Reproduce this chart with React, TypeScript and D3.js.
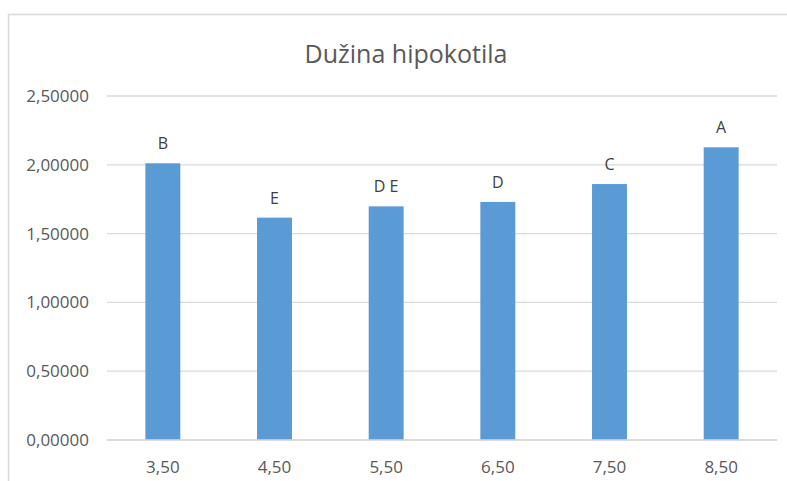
import React from 'react';
import * as d3 from 'd3';

const categories = ['3,50', '4,50', '5,50', '6,50', '7,50', '8,50'];
const values = [2.011, 1.616, 1.698, 1.73, 1.86, 2.127];
const letters = ['B', 'E', 'D E', 'D', 'C', 'A'];
const yTicks = [0, 0.5, 1, 1.5, 2, 2.5];

const W = 787;
const H = 481;
const margin = { top: 96, right: 10, bottom: 41, left: 107 };

const App = () => {
    const x = d3.scaleBand()
        .domain(categories)
        .range([margin.left, W - margin.right])
        .paddingInner(0.687)
        .paddingOuter(0.3435);

    const y = d3.scaleLinear()
        .domain([0, 2.5])
        .range([H - margin.bottom, margin.top]);

    const fmt = (v: number) => d3.format('.5f')(v).replace('.', ',');
    const font = "'Open Sans', sans-serif";

    return (
        <svg width={W} height={H} style={{ position: 'absolute', left: 0, top: 0 }} fontFamily={font}>
            <rect x={0} y={0} width={W} height={H} fill="#fff" />
            <rect x={8.5} y={14.5} width={W + 20} height={H + 20} fill="none" stroke="#d9d9d9" strokeWidth={1.5} />
            <text x={406} y={63} textAnchor="middle" fontSize={25} fill="#595959">Dužina hipokotila</text>

            {yTicks.map((t, i) => (
                <g key={i}>
                    <line x1={margin.left} x2={W - margin.right} y1={y(t)} y2={y(t)}
                        stroke="#d9d9d9" strokeWidth={1.3} />
                    <text x={89} y={y(t)} dy="0.35em" textAnchor="end" fontSize={17} fill="#595959">{fmt(t)}</text>
                </g>
            ))}

            {values.map((v, i) => {
                const cx = x(categories[i])! + x.bandwidth() / 2;
                return (
                    <g key={i}>
                        <rect x={x(categories[i])} y={y(v)} width={x.bandwidth()} height={y(0) - y(v)} fill="#5b9bd5" />
                        <text x={cx} y={y(v) - 14} textAnchor="middle" fontSize={16} fill="#404040">{letters[i]}</text>
                        <text x={cx} y={473} textAnchor="middle" fontSize={17} fill="#595959">{categories[i]}</text>
                    </g>
                );
            })}
            <line x1={margin.left} x2={W - margin.right} y1={y(0)} y2={y(0)} stroke="#d9d9d9" strokeWidth={1.5} />
        </svg>
    );
}

export default App;
